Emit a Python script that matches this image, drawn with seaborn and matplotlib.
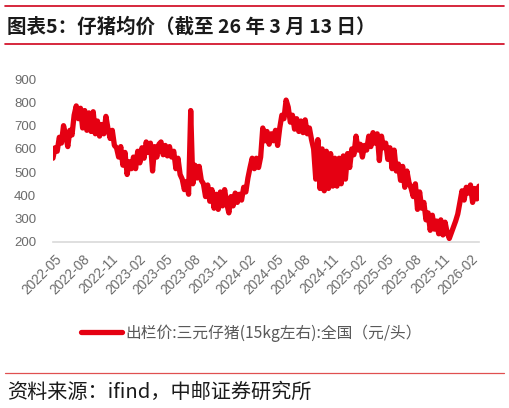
import pandas as pd
import matplotlib.pyplot as plt
import matplotlib.dates as mdates
from matplotlib.lines import Line2D
import seaborn as sns

# weekly readings, 2022-05 .. 2026-03-13 (元/头)
price_2022 = [560, 605, 590, 650, 625, 700, 660, 610, 680, 660, 745, 785, 730, 775, 690, 765,
              680, 755, 675, 760, 665, 720, 655, 705, 665, 740, 685, 645, 680, 615, 605, 565,
              610, 530]
price_2023 = [585, 490, 545, 515, 565, 515, 590, 540, 605, 560, 630, 585, 625, 505, 610, 565,
              620, 630, 575, 615, 570, 610, 565, 590, 515, 560, 490, 470, 425, 460, 405, 765,
              450, 530, 475, 525, 465, 450, 395, 445, 375, 425, 345, 405, 340, 415, 355, 425,
              365, 325, 395, 355]
price_2024 = [410, 370, 405, 380, 435, 415, 475, 520, 560, 515, 560, 520, 565, 690, 635, 675,
              620, 665, 635, 680, 615, 690, 745, 730, 810, 780, 715, 745, 685, 730, 675, 720,
              670, 725, 665, 690, 640, 600, 470, 640, 430, 600, 420, 590, 430, 580, 440, 560,
              440, 560, 450, 570]
price_2025 = [470, 580, 520, 600, 575, 655, 595, 620, 565, 615, 595, 655, 610, 670, 625, 665,
              550, 655, 605, 625, 555, 605, 515, 595, 505, 535, 465, 525, 435, 505, 455, 430,
              395, 450, 340, 415, 345, 370, 295, 325, 250, 315, 255, 290, 235, 295, 230, 285,
              240, 215, 240, 265]
price_2026 = [290, 320, 370, 420, 380, 435, 410, 445, 370, 430, 385, 440]

price = price_2022 + price_2023 + price_2024 + price_2025 + price_2026
dates = pd.date_range(end='2026-03-13', periods=len(price), freq='W-FRI')
df = pd.DataFrame({'date': dates, 'price': price})

legend_label = '出栏价:三元仔猪(15kg左右):全国（元/头）'
red = '#E50012'
grey = '#6b6b6b'

sns.set_theme(style='white')
plt.rcParams['font.family'] = ['Liberation Sans', 'Noto Sans CJK SC', 'DejaVu Sans']

fig = plt.figure(figsize=(5.09, 4.08), dpi=100)
ax = fig.add_axes([0.104, 0.407, 0.837, 0.399])

sns.lineplot(data=df, x='date', y='price', color=red, linewidth=3.8, ax=ax, label=legend_label)

ax.set_ylim(200, 900)
ax.set_yticks(range(200, 901, 100))
ax.set_xlim(dates[0], dates[-1])
ticks = pd.date_range('2022-05-01', '2026-02-01', freq='3MS') + pd.Timedelta(days=12)
ax.set_xticks(ticks)
ax.xaxis.set_major_formatter(mdates.DateFormatter('%Y-%m'))
ax.set_xlabel('')
ax.set_ylabel('')
for s in ['top', 'right', 'left']:
    ax.spines[s].set_visible(False)
ax.spines['bottom'].set_color('#d9d9d9')
ax.spines['bottom'].set_linewidth(1.2)
ax.tick_params(axis='y', length=0, pad=12, labelsize=9.5, labelcolor=grey)
ax.tick_params(axis='x', length=0, pad=7, labelsize=9.8, labelcolor=grey)
for lab in ax.get_xticklabels():
    lab.set_rotation(45)
    lab.set_ha('right')
    lab.set_rotation_mode('anchor')

leg = ax.legend(loc='center', bbox_to_anchor=(0.494, 0.184), bbox_transform=fig.transFigure,
                frameon=False, handlelength=2.6, handletextpad=0.2, labelcolor='#595959',
                prop={'family': ['Noto Sans CJK SC', 'DejaVu Sans'], 'size': 11.3})

# header / footer
fig.add_artist(Line2D([0.01, 0.99], [0.985, 0.985], color='#d0021b', linewidth=1.2))
fig.add_artist(Line2D([0.01, 0.99], [0.892, 0.892], color='#d0021b', linewidth=1.2))
fig.add_artist(Line2D([0.01, 0.99], [0.086, 0.086], color='#e05050', linewidth=0.9))
fig.text(0.014, 0.934, '图表5：仔猪均价（截至 26 年 3 月 13 日）', ha='left', va='center',
         fontsize=14, fontweight='bold', color='#1a1a1a',
         family=['Noto Sans CJK SC', 'DejaVu Sans'])
fig.text(0.014, 0.039, '资料来源：ifind，中邮证券研究所', ha='left', va='center',
         fontsize=14.5, color='#1a1a1a', family=['Noto Sans CJK SC', 'DejaVu Sans'])

fig.savefig('out.png', dpi=100)
